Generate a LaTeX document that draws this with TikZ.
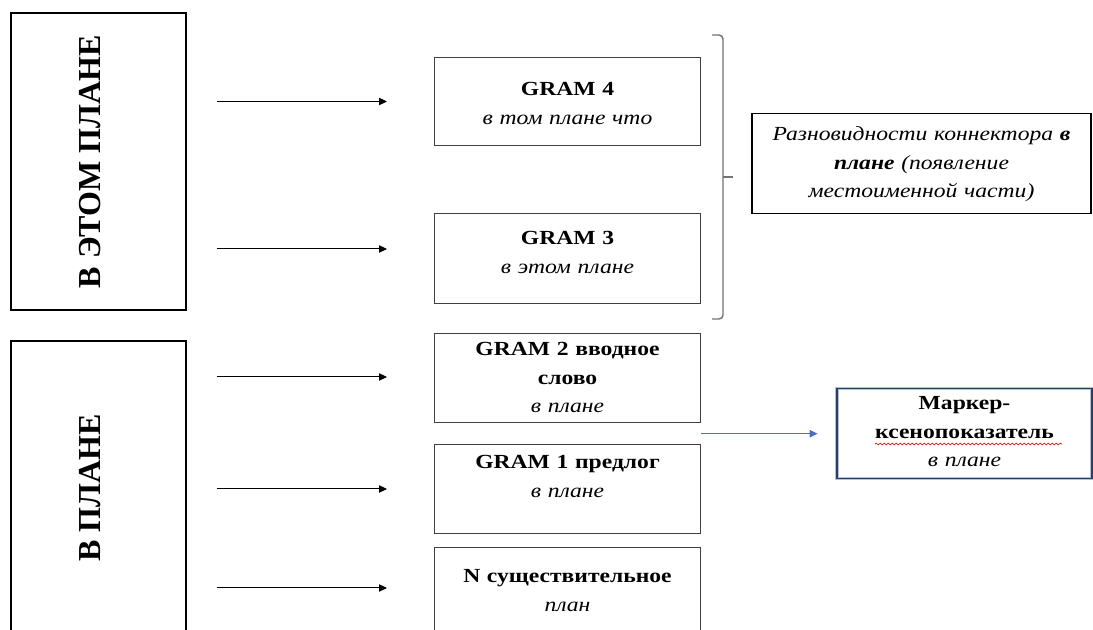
\documentclass[tikz,border=0pt]{standalone}
\usepackage{fontspec}
\setmainfont{Liberation Serif}
\newfontfamily\boxfont{Liberation Serif}[FakeStretch=1.18]
\usetikzlibrary{arrows.meta,positioning,calc,decorations.pathmorphing}
\definecolor{wordblue}{RGB}{68,114,196}
\definecolor{navy}{RGB}{47,62,96}
\tikzset{sidebox/.style={draw=black,line width=1.1pt,rotate=90,inner sep=0pt,text height=66.75pt,text depth=64.5pt,anchor=base,font=\fontsize{24}{28}\selectfont\bfseries},box/.style={draw=black!75,line width=0.8pt,inner sep=0pt,text width=199.5pt,align=center,font=\boxfont\fontsize{15}{21.5}\selectfont},note/.style={box,draw=black},arrow/.style={-{Triangle[length=6pt,width=5.5pt]},line width=0.75pt},bracket/.style={draw=black!55,line width=1.1pt,rounded corners=3pt}}
\begin{document}
\begin{tikzpicture}[x=0.75pt,y=-0.75pt]
\useasboundingbox (0,0) rectangle (1093,630);
\clip (0,0) rectangle (1093,630);
\node[sidebox,minimum width=222.75pt] (thisplan) at (100,161.5) {В ЭТОМ ПЛАНЕ};
\node[sidebox,minimum width=220.5pt] (plan) at (100,488) {В ПЛАНЕ};
\node[box,text height=28.5pt,text depth=37.5pt,anchor=north] (gram4) at (567.5,57) {\textbf{GRAM 4}\\\textit{в том плане что}};
\node[box,text height=23.25pt,text depth=44.25pt,below=50.25pt of gram4] (gram3) {\textbf{GRAM 3}\\\textit{в этом плане}};
\node[box,text height=16.5pt,text depth=50.25pt,below=21.75pt of gram3] (gram2) {\textbf{GRAM 2 вводное}\\\textbf{слово}\\\textit{в плане}};
\node[box,text height=18pt,text depth=48.75pt,below=15.75pt of gram2] (gram1) {\textbf{GRAM 1 предлог}\\\textit{в плане}};
\node[box,text height=26.25pt,text depth=43.5pt,below=9.75pt of gram1] (noun) {\textbf{N существительное}\\\textit{план}};
\node[note,text width=254.25pt,text height=20.25pt,text depth=54.75pt,anchor=north,font=\boxfont\fontsize{15}{21.5}\selectfont\itshape] (kinds) at (921.5,113) {Разновидности коннектора \textbf{в}\\\textbf{плане} (появление\\местоименной части)};
\node[note,draw=navy,line width=1pt,preaction={draw=wordblue!45,line width=2.4pt},text width=191.25pt,text height=15.75pt,text depth=51.75pt,anchor=north] (marker) at (964.5,388) {\textbf{Маркер-}\\\textbf{ксенопоказатель}\\\textit{в плане}};
% arrows from the left blocks
\foreach \y [count=\i] in {101.5,249,377,489,588}{\coordinate (a\i) at (217,\y);\coordinate (b\i) at (387,\y);\draw[arrow] (a\i) -- (b\i);}
\coordinate (gap) at ($(gram2.south east)!.5!(gram1.north east)$);
\draw[arrow,wordblue,shorten >=14pt] (gap) -- (gap -| marker.west);
% brace round GRAM 4 and GRAM 3
\coordinate (bt) at (712,35);\coordinate (bb) at (712,319);\coordinate (tip) at (723,177);
\draw[bracket] (bt) -- ++(11,0) -- ++(0,284) -- (bb);\draw[bracket] (tip) -- ++(10,0);
\draw[red,line width=0.5pt,decorate,decoration={snake,amplitude=0.7pt,segment length=3pt}] (875,444) -- (1062,444);
\end{tikzpicture}
\end{document}
